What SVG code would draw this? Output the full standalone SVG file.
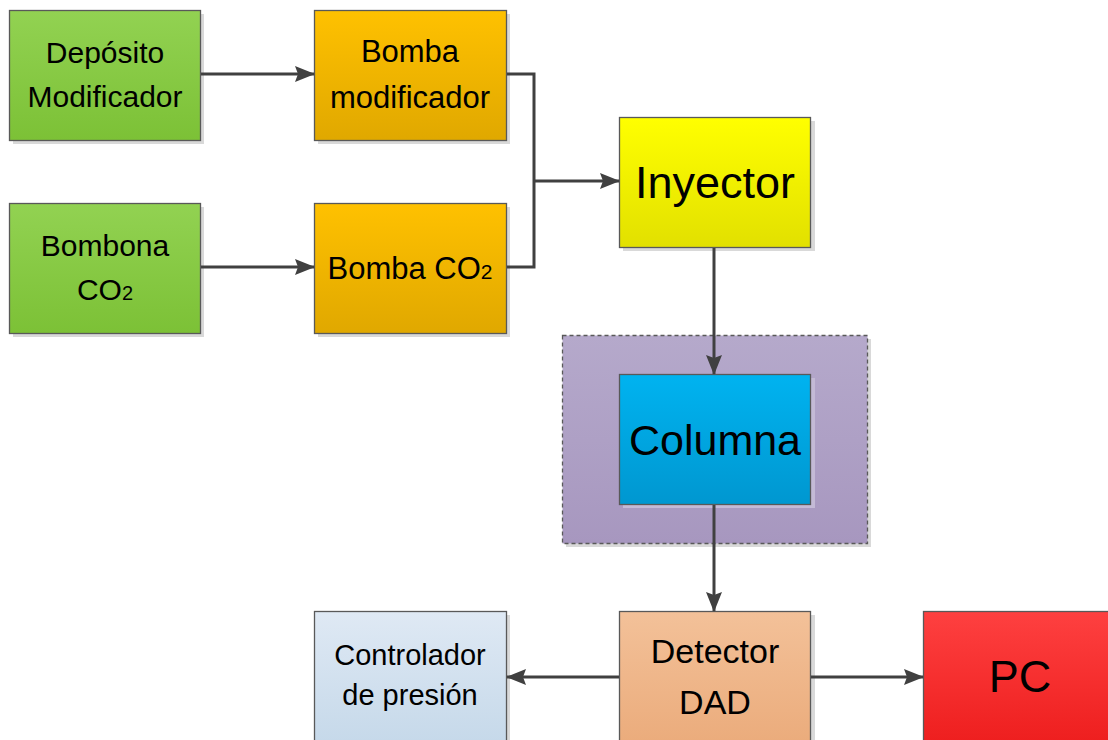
<svg xmlns="http://www.w3.org/2000/svg" width="1108" height="740" viewBox="0 0 1108 740">
<style>
.box{stroke:#595959;stroke-width:1.3}
.sh{fill:#d9d9d9}
.t{font-family:"Liberation Sans",Arial,sans-serif;fill:#000;text-anchor:middle}
.c{fill:none;stroke:#404040;stroke-width:3}
</style>
<defs>
<linearGradient id="gG" x1="0" y1="0" x2="0" y2="1"><stop offset="0" stop-color="#92d252"/><stop offset="1" stop-color="#7cc136"/></linearGradient>
<linearGradient id="gO" x1="0" y1="0" x2="0" y2="1"><stop offset="0" stop-color="#ffc100"/><stop offset="1" stop-color="#e0a800"/></linearGradient>
<linearGradient id="gY" x1="0" y1="0" x2="0" y2="1"><stop offset="0" stop-color="#ffff00"/><stop offset="1" stop-color="#e2e000"/></linearGradient>
<linearGradient id="gB" x1="0" y1="0" x2="0" y2="1"><stop offset="0" stop-color="#00b3f0"/><stop offset="1" stop-color="#0097d0"/></linearGradient>
<linearGradient id="gP" x1="0" y1="0" x2="0" y2="1"><stop offset="0" stop-color="#b5a9cb"/><stop offset="1" stop-color="#a797bf"/></linearGradient>
<linearGradient id="gD" x1="0" y1="0" x2="0" y2="1"><stop offset="0" stop-color="#f3c199"/><stop offset="1" stop-color="#ebac7c"/></linearGradient>
<linearGradient id="gL" x1="0" y1="0" x2="0" y2="1"><stop offset="0" stop-color="#dfe9f4"/><stop offset="1" stop-color="#c6d9ea"/></linearGradient>
<linearGradient id="gR" x1="0" y1="0" x2="0" y2="1"><stop offset="0" stop-color="#fe4040"/><stop offset="1" stop-color="#ee1f1f"/></linearGradient>
<marker id="ah" viewBox="0 0 20 16" refX="19" refY="8" markerWidth="20" markerHeight="16" markerUnits="userSpaceOnUse" orient="auto">
<path d="M0,0 L20,8 L0,16 L3,8 Z" fill="#404040"/>
</marker>
</defs>

<g id="container">
<rect x="566" y="339" width="305" height="208" class="sh"/>
<rect x="562.5" y="335.5" width="305" height="208" fill="url(#gP)" stroke="#595959" stroke-width="1.3" stroke-dasharray="4 3"/>
</g>

<g id="deposito">
<rect x="13" y="14" width="191" height="130" class="sh"/>
<rect x="9.5" y="10.5" width="191" height="130" fill="url(#gG)" class="box"/>
<text class="t" x="105" y="63" font-size="30">Depósito</text>
<text class="t" x="105" y="107" font-size="30">Modificador</text>
</g>

<g id="bombona">
<rect x="13" y="207" width="191" height="130" class="sh"/>
<rect x="9.5" y="203.5" width="191" height="130" fill="url(#gG)" class="box"/>
<text class="t" x="105" y="256" font-size="30">Bombona</text>
<text class="t" x="105" y="300" font-size="30">CO<tspan font-size="20">2</tspan></text>
</g>

<g id="bomba-mod">
<rect x="318" y="14" width="192" height="130" class="sh"/>
<rect x="314.5" y="10.5" width="192" height="130" fill="url(#gO)" class="box"/>
<text class="t" x="410" y="62" font-size="31">Bomba</text>
<text class="t" x="410" y="108" font-size="31">modificador</text>
</g>

<g id="bomba-co2">
<rect x="318" y="207" width="192" height="130" class="sh"/>
<rect x="314.5" y="203.5" width="192" height="130" fill="url(#gO)" class="box"/>
<text class="t" x="410" y="279" font-size="31">Bomba CO<tspan font-size="21">2</tspan></text>
</g>

<g id="inyector">
<rect x="623" y="121" width="192" height="130" class="sh"/>
<rect x="619.5" y="117.5" width="191" height="130" fill="url(#gY)" class="box"/>
<text class="t" x="715" y="198" font-size="45">Inyector</text>
</g>

<g id="columna">
<rect x="623" y="378" width="192" height="130" fill="#c4bad6"/>
<rect x="619.5" y="374.5" width="191" height="130" fill="url(#gB)" class="box"/>
<text class="t" x="715" y="455" font-size="43">Columna</text>
</g>

<g id="controlador">
<rect x="318" y="615" width="192" height="130" class="sh"/>
<rect x="314.5" y="611.5" width="192" height="130" fill="url(#gL)" class="box"/>
<text class="t" x="410" y="665" font-size="29">Controlador</text>
<text class="t" x="410" y="705" font-size="29">de presión</text>
</g>

<g id="detector">
<rect x="623" y="615" width="192" height="130" class="sh"/>
<rect x="619.5" y="611.5" width="191" height="130" fill="url(#gD)" class="box"/>
<text class="t" x="715" y="663" font-size="34">Detector</text>
<text class="t" x="715" y="714" font-size="34">DAD</text>
</g>

<g id="pc">
<rect x="927" y="615" width="192" height="130" class="sh"/>
<rect x="923.5" y="611.5" width="192" height="130" fill="url(#gR)" class="box"/>
<text class="t" x="1020" y="692" font-size="45">PC</text>
</g>

<g id="connectors">
<line class="c" x1="201" y1="74" x2="314" y2="74" marker-end="url(#ah)"/>
<line class="c" x1="201" y1="267" x2="314" y2="267" marker-end="url(#ah)"/>
<polyline class="c" points="507,74 534,74 534,267 507,267"/>
<line class="c" x1="534" y1="181" x2="619" y2="181" marker-end="url(#ah)"/>
<line class="c" x1="714" y1="248" x2="714" y2="374" marker-end="url(#ah)"/>
<line class="c" x1="714" y1="505" x2="714" y2="611" marker-end="url(#ah)"/>
<line class="c" x1="619" y1="677" x2="507" y2="677" marker-end="url(#ah)"/>
<line class="c" x1="811" y1="677" x2="923" y2="677" marker-end="url(#ah)"/>
</g>
</svg>
